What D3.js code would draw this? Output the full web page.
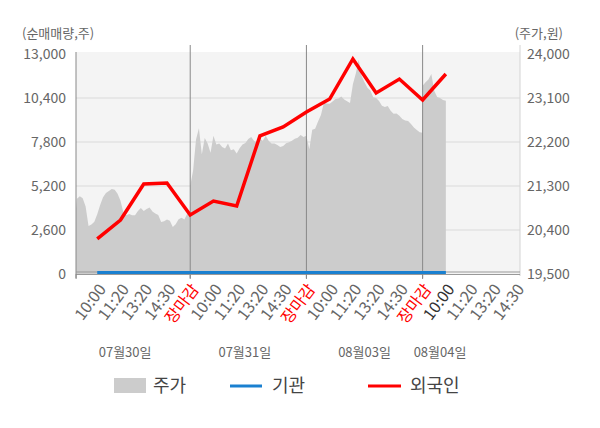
<!DOCTYPE html>
<html>
<head>
<meta charset="utf-8">
<script src="https://cdn.jsdelivr.net/npm/d3@7"></script>
<style>
  body { margin: 0; background: #fff; }
  svg { display: block; font-family: "Noto Sans CJK KR", "Noto Sans", sans-serif; }
</style>
</head>
<body>
<div class="chart"></div>
<script>
var svgWidth = 600;
var svgHeight = 428;

// x axis labels, one per slot (5 slots per trading day)
var tickLabels = ["10:00", "11:20", "13:20", "14:30", "장마감",
                  "10:00", "11:20", "13:20", "14:30", "장마감",
                  "10:00", "11:20", "13:20", "14:30", "장마감",
                  "10:00", "11:20", "13:20", "14:30"];
var days = ["07월30일", "07월31일", "08월03일", "08월04일"];
var daySlots = [2.2, 7.35, 12.5, 15.75];
var dayStart = [0, 5, 10, 15];
var dayEnd = [5, 10, 15, 16];

// 주가 (price), intraday, per day
var price1 = [20375, 21040, 21090, 21050, 20880, 20480, 20510, 20570, 20720, 20910,
              21070, 21155, 21200, 21240, 21225, 21140, 21000, 20760, 20700, 20725,
              20700, 20700, 20790, 20850, 20790, 20830, 20860, 20780, 20740, 20705,
              20565, 20580, 20615, 20590, 20460, 20520, 20620, 20650, 20615, 20740, 20700];
var price2 = [21300, 21617, 22250, 22480, 21950, 22280, 22170, 21980, 22330, 22150,
              22167, 22100, 22065, 22167, 22030, 22050, 21964, 22070, 22150, 22180,
              22260, 22300, 22220, 22190, 22269, 22228, 22330, 22228, 22167, 22167,
              22140, 22100, 22120, 22175, 22195, 22228, 22265, 22285, 22345, 22300, 22330];
var price3 = [22330, 22050, 22450, 22470, 22620, 22750, 23000, 22990, 22980, 23030,
              23080, 23090, 23130, 23070, 23035, 23000, 23380, 23600, 23880, 23550,
              23420, 23310, 23255, 23115, 23100, 23040, 22940, 22915, 22935, 22840,
              22780, 22785, 22735, 22670, 22640, 22630, 22570, 22495, 22445, 22400, 22390];
var price4 = [23350, 23420, 23480, 23590, 23250, 23120, 23100, 23060, 23043];

// 외국인 / 기관 net volume at slots 1..16
var foreign = [2070, 3190, 5320, 5380, 3490, 4310, 4020, 8160, 8690, 9570,
               10340, 12710, 10700, 11520, 10280, 11820];
var institution = [0, 0, 0, 0, 0, 0, 0, 0, 0, 0, 0, 0, 0, 0, 0, 0];

var leftTicks = [0, 2600, 5200, 7800, 10400, 13000];
var rightTicks = [19500, 20400, 21300, 22200, 23100, 24000];

var plot = { left: 76, right: 520, top: 52, bottom: 274 };

var svg = d3.select(".chart")
  .append("svg")
  .attr("width", svgWidth)
  .attr("height", svgHeight);

var xScale = d3.scaleLinear().domain([0, 19.19]).range([74, plot.right]);
var yLeft = d3.scaleLinear().domain([0, 13000]).range([plot.bottom, 54]);
var yRight = d3.scaleLinear().domain([19500, 24000]).range([plot.bottom, 54]);

svg.append("defs").append("clipPath").attr("id", "clip")
  .append("rect")
  .attr("x", plot.left).attr("y", plot.top)
  .attr("width", plot.right - plot.left).attr("height", plot.bottom - plot.top);

// background
svg.append("rect")
  .attr("x", plot.left).attr("y", plot.top)
  .attr("width", plot.right - plot.left).attr("height", plot.bottom - plot.top)
  .attr("fill", "#f4f4f4");

// price series flattened
var priceDays = [price1, price2, price3, price4];
var priceData = [];
priceDays.forEach(function(arr, d) {
  arr.forEach(function(p, i) {
    priceData.push({ s: dayStart[d] + (dayEnd[d] - dayStart[d]) * i / (arr.length - 1), p: p });
  });
});

var area = d3.area()
  .x(d => xScale(d.s))
  .y0(yRight(19500))
  .y1(d => yRight(d.p));

// grid lines
svg.append("g").selectAll("line")
  .data(leftTicks.filter(t => t > 0 && t < 13000))
  .enter().append("line")
  .attr("x1", plot.left).attr("x2", plot.right)
  .attr("y1", d => yLeft(d)).attr("y2", d => yLeft(d))
  .attr("stroke", "#dadada");

svg.append("path")
  .datum(priceData)
  .attr("clip-path", "url(#clip)")
  .attr("d", area)
  .attr("fill", "#cccccc");

// day separators
svg.append("g").selectAll("line")
  .data([5, 10, 15])
  .enter().append("line")
  .attr("x1", d => xScale(d)).attr("x2", d => xScale(d))
  .attr("y1", 45).attr("y2", 278)
  .attr("stroke", "#888");

// frame lines
svg.append("line")
  .attr("x1", plot.left).attr("x2", plot.left)
  .attr("y1", plot.top).attr("y2", 278)
  .attr("stroke", "#888");
svg.append("line")
  .attr("x1", plot.right).attr("x2", plot.right)
  .attr("y1", 45).attr("y2", 276)
  .attr("stroke", "#d4d4d4");
svg.append("line")
  .attr("x1", plot.left).attr("x2", plot.right)
  .attr("y1", 272).attr("y2", 272)
  .attr("stroke", "#999");
svg.append("line")
  .attr("x1", plot.left).attr("x2", plot.right)
  .attr("y1", 274.5).attr("y2", 274.5)
  .attr("stroke", "#999");

// lines
var line = d3.line()
  .x((d, i) => xScale(i + 1))
  .y(d => yLeft(d));

svg.append("path")
  .datum(institution)
  .attr("d", d3.line().x((d, i) => xScale(i + 1)).y(d => yLeft(d) - 1.5))
  .attr("fill", "none")
  .attr("stroke", "#1a80d0")
  .attr("stroke-width", 3);

svg.append("path")
  .datum(foreign)
  .attr("d", line)
  .attr("fill", "none")
  .attr("stroke", "#ff0000")
  .attr("stroke-width", 3.5)
  .attr("stroke-linejoin", "miter");

// left axis labels
svg.append("g").selectAll("text")
  .data(leftTicks)
  .enter().append("text")
  .attr("x", 66)
  .attr("y", d => yLeft(d))
  .attr("dy", "0.35em")
  .attr("text-anchor", "end")
  .attr("font-size", 14)
  .attr("fill", "#666")
  .text(d => d3.format(",")(d));

// right axis labels
svg.append("g").selectAll("text")
  .data(rightTicks)
  .enter().append("text")
  .attr("x", 527)
  .attr("y", d => yRight(d))
  .attr("dy", "0.35em")
  .attr("text-anchor", "start")
  .attr("font-size", 14)
  .attr("fill", "#666")
  .text(d => d3.format(",")(d));

svg.append("text")
  .attr("x", 22).attr("y", 33).attr("dy", "0.35em")
  .attr("font-size", 13).attr("fill", "#666")
  .text("(순매매량,주)");
svg.append("text")
  .attr("x", 563).attr("y", 33).attr("dy", "0.35em")
  .attr("text-anchor", "end")
  .attr("font-size", 13).attr("fill", "#666")
  .text("(주가,원)");

// x ticks
svg.append("g").selectAll("line")
  .data([0.09, 5, 10, 15])
  .enter().append("line")
  .attr("x1", d => xScale(d)).attr("x2", d => xScale(d))
  .attr("y1", 274).attr("y2", 279)
  .attr("stroke", "#888");

svg.append("g").selectAll("text")
  .data(tickLabels)
  .enter().append("text")
  .attr("transform", (d, i) => `translate(${xScale(i + 1) + 5}, 286) rotate(-53)`)
  .attr("dy", "0.35em")
  .attr("text-anchor", "end")
  .attr("font-size", 16)
  .attr("fill", (d, i) => d === "장마감" ? "#ff0000" : (i === 15 ? "#333" : "#666"))
  .text(d => d);

svg.append("g").selectAll("text")
  .data(days)
  .enter().append("text")
  .attr("x", (d, i) => xScale(daySlots[i]))
  .attr("y", 352)
  .attr("dy", "0.35em")
  .attr("text-anchor", "middle")
  .attr("font-size", 13)
  .attr("fill", "#666")
  .text(d => d);

// legend
var legend = svg.append("g").attr("font-size", 18).attr("fill", "#444");
legend.append("rect").attr("x", 114).attr("y", 378).attr("width", 32).attr("height", 15).attr("fill", "#cccccc");
legend.append("text").attr("x", 153).attr("y", 386).attr("dy", "0.35em").text("주가");
legend.append("line").attr("x1", 230).attr("x2", 262).attr("y1", 386).attr("y2", 386)
  .attr("stroke", "#1a80d0").attr("stroke-width", 3);
legend.append("text").attr("x", 272).attr("y", 386).attr("dy", "0.35em").text("기관");
legend.append("line").attr("x1", 368).attr("x2", 401).attr("y1", 386).attr("y2", 386)
  .attr("stroke", "#ff0000").attr("stroke-width", 3);
legend.append("text").attr("x", 410).attr("y", 386).attr("dy", "0.35em").text("외국인");
</script>
</body>
</html>
